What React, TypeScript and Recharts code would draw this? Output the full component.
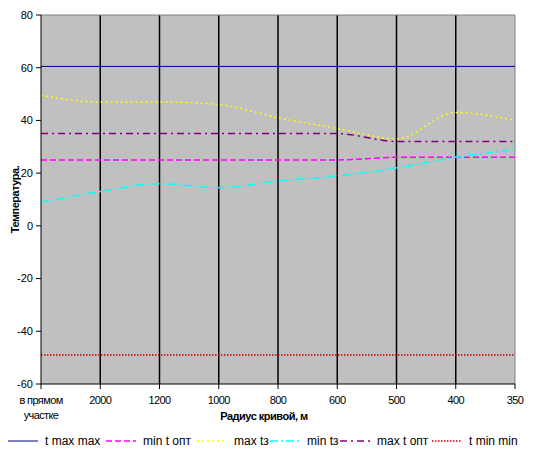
import { LineChart, Line, XAxis, YAxis, CartesianGrid, Legend, ReferenceLine } from "recharts"

// categories (curve radius)
const categories = ["в прямом участке", "2000", "1200", "1000", "800", "600", "500", "400", "350"]

// series values
const tMaxMax = [60.5, 60.5, 60.5, 60.5, 60.5, 60.5, 60.5, 60.5, 60.5]
const minTOpt = [25, 25, 25, 25, 25, 25, 26, 26, 26]
const maxTz = [49.5, 47, 47, 46, 41, 37, 33, 43, 40]
const minTz = [9, 13, 16, 14.5, 17, 19, 22, 26, 29]
const maxTOpt = [35, 35, 35, 35, 35, 35, 32, 32, 32]
const tMinMin = [-49, -49, -49, -49, -49, -49, -49, -49, -49]

const yTicks = [-60, -40, -20, 0, 20, 40, 60, 80]

const data = categories.map((cat, i) => ({
    cat,
    tMaxMax: tMaxMax[i],
    minTOpt: minTOpt[i],
    maxTz: maxTz[i],
    minTz: minTz[i],
    maxTOpt: maxTOpt[i],
    tMinMin: tMinMin[i],
}))

const SERIES = [
    { key: "tMaxMax", name: "t max max", color: "#000080", dash: undefined, width: 1 },
    { key: "minTOpt", name: "min t опт", color: "#FF00FF", dash: "6 3", width: 1.5 },
    { key: "maxTz", name: "max tз", color: "#FFFF00", dash: "2 3", width: 1.5 },
    { key: "minTz", name: "min tз", color: "#00FFFF", dash: "8 3 2 3", width: 1.5 },
    { key: "maxTOpt", name: "max t опт", color: "#800080", dash: "7 4 2 4", width: 1.5 },
    { key: "tMinMin", name: "t min min", color: "#C00000", dash: "1.5 1.5", width: 1.5 },
]

const FONT = "'Liberation Sans', Arial, sans-serif"

// legend item left edges
const LEGEND_X = [8, 106, 197, 270, 340, 432]

const ChartLegend = () => (
    <svg width={541} height={32} style={{ display: "block" }}>
        {SERIES.map((s, i) => (
            <g key={s.key}>
                <line x1={LEGEND_X[i]} x2={LEGEND_X[i] + 30} y1={13} y2={13}
                    stroke={s.color} strokeWidth={s.width} strokeDasharray={s.dash} />
                <text x={LEGEND_X[i] + 37} y={17} fontSize={12} fontFamily={FONT} fill="#000">{s.name}</text>
            </g>
        ))}
    </svg>
)

const XTick = (props: any) => {
    const { x, y, payload } = props
    const words = String(payload.value).split(" ")
    const lines = words.length > 1 ? [words.slice(0, -1).join(" "), words[words.length - 1]] : words
    return (
        <g>
            {lines.map((l, i) => (
                <text key={i} x={x} y={y + 8 + i * 15} textAnchor="middle" fontSize={11}
                    letterSpacing={-0.6} fontFamily={FONT} fill="#000">{l}</text>
            ))}
        </g>
    )
}

export default function App() {
    return (
        <div style={{ position: "absolute", left: 0, top: 0, background: "#fff" }}>
            <LineChart width={541} height={460} data={data}
                margin={{ top: 15, right: 26, bottom: 0, left: 0 }}>
                <CartesianGrid horizontal={false} vertical={false} fill="#C0C0C0" />
                {categories.slice(1, -1).map(c => (
                    <ReferenceLine key={c} x={c} stroke="#000" strokeWidth={1.5} />
                ))}
                <ReferenceLine y={80} stroke="#808080" />
                <ReferenceLine x={categories[categories.length - 1]} stroke="#808080" />
                <XAxis dataKey="cat" height={44} stroke="#000" tickSize={5} tickMargin={7}
                    interval={0} tick={<XTick />}
                    label={{
                        content: (p: any) => (
                            <text x={p.viewBox.x + p.viewBox.width / 2 - 14} y={p.viewBox.y + 36}
                                textAnchor="middle" fontSize={11} letterSpacing={-0.5} fontWeight="bold"
                                fontFamily={FONT} fill="#000">
                                Радиус кривой, м
                            </text>
                        ),
                    }} />
                <YAxis domain={[-60, 80]} ticks={yTicks} width={41} stroke="#000" tickSize={5} tickMargin={3}
                    interval={0}
                    tick={{ fontSize: 11, fontFamily: FONT, fill: "#000" }}
                    label={{
                        content: (p: any) => (
                            <text x={0} y={0} transform={`translate(19, ${p.viewBox.y + p.viewBox.height / 2}) rotate(-90)`}
                                textAnchor="middle" fontSize={11} letterSpacing={-0.5} fontWeight="bold"
                                fontFamily={FONT} fill="#000">
                                Температура.
                            </text>
                        ),
                    }} />
                <Legend verticalAlign="bottom" wrapperStyle={{ left: 0, width: 541 }} content={<ChartLegend />} />
                {SERIES.map(s => (
                    <Line key={s.key} dataKey={s.key} name={s.name} type="monotone" stroke={s.color}
                        strokeWidth={s.width} strokeDasharray={s.dash} dot={false} activeDot={false}
                        isAnimationActive={false} />
                ))}
            </LineChart>
        </div>
    )
}
